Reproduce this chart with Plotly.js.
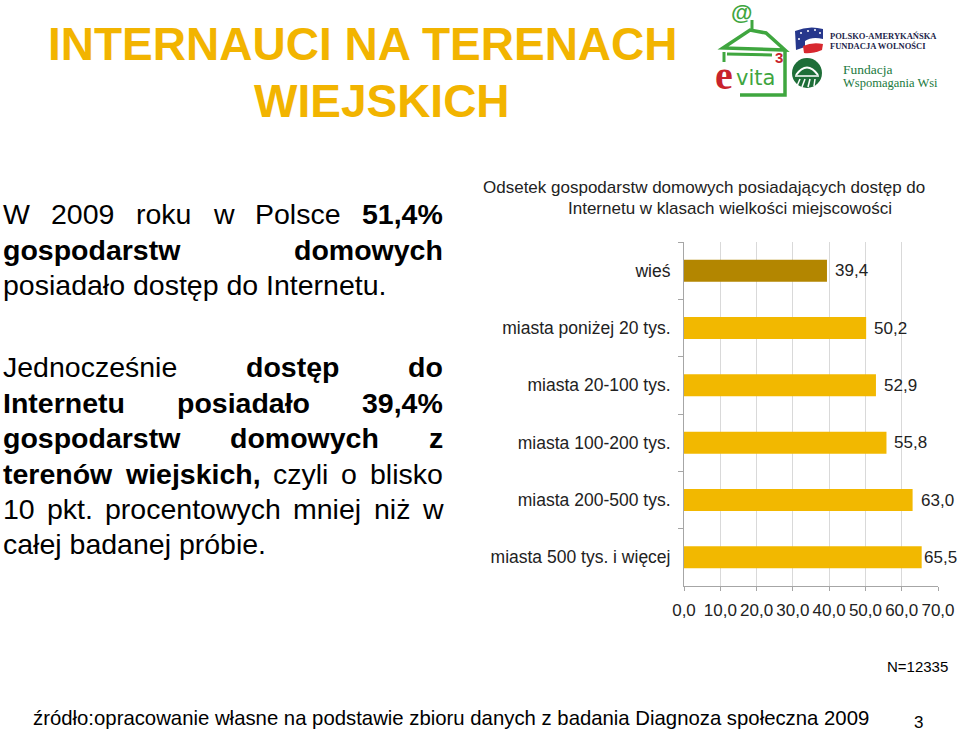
<!DOCTYPE html>
<html>
<head>
<meta charset="utf-8">
<script src="https://cdn.plot.ly/plotly-3.0.1.min.js"></script>
<style>html,body{margin:0;padding:0;background:#fff;}#chart{width:960px;height:734px;}</style>
</head>
<body>
<div id="chart"></div>
<script>
// ---------- DATA ----------
const categories = ['wieś', 'miasta poniżej 20 tys.', 'miasta 20-100 tys.', 'miasta 100-200 tys.', 'miasta 200-500 tys.', 'miasta 500 tys. i więcej'];
const values = [39.4, 50.2, 52.9, 55.8, 63.0, 65.5];
const xTicks = [0, 10, 20, 30, 40, 50, 60, 70];
const slideTitle = ['INTERNAUCI NA TERENACH', 'WIEJSKICH'];
const chartTitle = ['Odsetek gospodarstw domowych posiadających dostęp do', 'Internetu w klasach wielkości miejscowości'];
const sampleNote = 'N=12335';
const sourceNote = 'źródło:opracowanie własne na podstawie zbioru danych z badania Diagnoza społeczna 2009';
const pageNumber = '3';
// paragraphs: each line is a list of [word, bold]
const paragraph1 = [
  [['W',0],['2009',0],['roku',0],['w',0],['Polsce',0],['51,4%',1]],
  [['gospodarstw',1],['domowych',1]],
  [['posiadało dostęp do Internetu.',0]]
];
const paragraph2 = [
  [['Jednocześnie',0],['dostęp',1],['do',1]],
  [['Internetu',1],['posiadało',1],['39,4%',1]],
  [['gospodarstw',1],['domowych',1],['z',1]],
  [['terenów',1],['wiejskich,',1],['czyli',0],['o',0],['blisko',0]],
  [['10',0],['pkt.',0],['procentowych',0],['mniej',0],['niż',0],['w',0]],
  [['całej badanej próbie.',0]]
];

// ---------- HELPERS ----------
const W = 960, H = 734;
const X = px => px / W;
const Y = py => 1 - py / H;
const FAM = 'Liberation Sans, Arial, sans-serif';
const canvas = document.createElement('canvas');
const ctx = canvas.getContext('2d');
function measure(t, size, bold, fam) {
  ctx.font = (bold ? 'bold ' : '') + size + 'px ' + (fam || '"Liberation Sans", Arial');
  return ctx.measureText(t).width;
}
const annotations = [];
function txt(t, px, pyCenter, size, opts) {
  opts = opts || {};
  annotations.push({
    xref: 'paper', yref: 'paper', x: X(px), y: Y(pyCenter), text: t, showarrow: false,
    xanchor: opts.anchor || 'left', yanchor: 'middle', borderpad: 0, borderwidth: 0,
    font: {family: opts.family || FAM, size: size, color: opts.color || '#000', weight: opts.bold ? 'bold' : 'normal'}
  });
}
const centerOff = fs => 0.3465 * fs;

// justified paragraphs
const PFS = 28.5, PL = 2.5, PR = 443;
function drawParagraph(lines, baselines) {
  lines.forEach((words, li) => {
    const yc = baselines[li] - centerOff(PFS);
    const isLast = li === lines.length - 1;
    if (isLast || words.length === 1) {
      let x = PL;
      words.forEach(([w, b]) => { txt(w, x, yc, PFS, {bold: b}); x += measure(w + ' ', PFS, b); });
    } else {
      const widths = words.map(([w, b]) => measure(w, PFS, b));
      const total = widths.reduce((a, c) => a + c, 0);
      const gap = (PR - PL - total) / (words.length - 1);
      let x = PL;
      words.forEach(([w, b], i) => { txt(w, x, yc, PFS, {bold: b}); x += widths[i] + gap; });
    }
  });
}
drawParagraph(paragraph1, [224, 259.5, 295]);
drawParagraph(paragraph2, [377, 412.5, 448, 483.5, 519, 554]);

// slide title
const gold = '#F2B400';
txt(slideTitle[0], 362.5, 60 - centerOff(46), 46, {bold: 1, color: gold, anchor: 'center'});
txt(slideTitle[1], 381.5, 117 - centerOff(46), 46, {bold: 1, color: gold, anchor: 'center'});

// chart title
txt(chartTitle[0], 703.5, 193 - centerOff(17), 17, {color: '#222', anchor: 'center'});
txt(chartTitle[1], 730, 214 - centerOff(17), 17, {color: '#222', anchor: 'center'});

// notes
txt(sampleNote, 948, 666, 15, {anchor: 'right', color: '#000'});
const footFs = 837 / measure(sourceNote, 1, 0);
txt(sourceNote, 33, 718, footFs, {color: '#000'});
txt(pageNumber, 918, 722, 17, {anchor: 'center', color: '#000'});

// value labels (through the data axes)
const axL = 684, axR = 938;
values.forEach((v, i) => {
  const lab = v.toFixed(1).replace('.', ',');
  const lw = measure(lab, 17, 0);
  const endPx = axL + (v - 0) / 70 * (axR - axL);
  const shift = Math.min(8, 957 - lw - endPx);
  annotations.push({xref: 'x', yref: 'y', x: v, y: categories[i], text: lab, showarrow: false,
    xanchor: 'left', yanchor: 'middle', xshift: shift, borderpad: 0, borderwidth: 0,
    font: {family: FAM, size: 17, color: '#222'}});
});

// ---------- LOGOS (approximate) ----------
const green = '#3FA63F';
const P = pts => pts.map((p, i) => (i ? 'L ' : 'M ') + X(p[0]) + ',' + Y(p[1])).join(' ');
const shapes = [];
function path(d, line, fill, w) {
  shapes.push({type: 'path', xref: 'paper', yref: 'paper', path: d, line: {color: line || 'rgba(0,0,0,0)', width: w || 0}, fillcolor: fill || 'rgba(0,0,0,0)'});
}
// evita house
path(P([[723,48],[750,30],[766,33],[785,50]]) + ' Z', green, null, 3.5);
path(P([[727,54],[772,55]]), green, null, 3);
path(P([[785,50],[785,95],[740,95]]), green, null, 3.5);
path(P([[724,52],[724,62]]), green, null, 3);
path(P([[752,20],[752,30]]), green, null, 3);
txt('@', 741, 13, 22, {bold: 1, color: green, anchor: 'center'});
txt('e', 724, 75, 40, {bold: 1, color: '#C8232C', anchor: 'center', family: 'Liberation Serif, serif'});
txt('vita', 755, 78, 21, {color: green, anchor: 'center', family: 'DejaVu Sans, sans-serif'});
txt('3', 779, 58, 15, {bold: 1, color: '#C8232C', anchor: 'center'});
// PAFW flag
const navy = '#26378C';
shapes.push({type: 'path', xref: 'paper', yref: 'paper', line: {width: 0},
  fillcolor: navy, path: `M ${X(795)},${Y(31)} Q ${X(809)},${Y(25)} ${X(823)},${Y(29)} L ${X(823)},${Y(39)} Q ${X(812)},${Y(36)} ${X(805)},${Y(41)} L ${X(805)},${Y(47)} L ${X(796)},${Y(50)} Z`});
shapes.push({type: 'path', xref: 'paper', yref: 'paper', line: {width: 0},
  fillcolor: '#D7282F', path: `M ${X(803)},${Y(46)} Q ${X(812)},${Y(42)} ${X(823)},${Y(44)} L ${X(822)},${Y(50)} Q ${X(812)},${Y(54)} ${X(804)},${Y(53)} Z`});
[[801,33],[808,31],[815,30],[799,39],[820,33]].forEach(([cx, cy]) => {
  shapes.push({type: 'circle', xref: 'paper', yref: 'paper', x0: X(cx-1), x1: X(cx+1), y0: Y(cy+1), y1: Y(cy-1), line: {width: 0}, fillcolor: '#fff'});
});
txt('POLSKO-AMERYKAŃSKA', 830, 36, 8.5, {bold: 1, color: '#1C1E4A', family: 'Liberation Serif, serif'});
txt('FUNDACJA WOLNOŚCI', 830, 46.5, 8.5, {bold: 1, color: '#1C1E4A', family: 'Liberation Serif, serif'});
// FWW logo
const dg = '#1E6E38';
shapes.push({type: 'circle', xref: 'paper', yref: 'paper', x0: X(792), x1: X(822), y0: Y(88), y1: Y(58), line: {width: 0}, fillcolor: dg});
shapes.push({type: 'path', xref: 'paper', yref: 'paper', line: {color: '#fff', width: 2}, fillcolor: 'rgba(0,0,0,0)',
  path: `M ${X(796)},${Y(75)} Q ${X(807)},${Y(60)} ${X(818)},${Y(75)}`});
path(P([[795,76],[819,76]]), '#fff', null, 1.5);
[[800,79,797,86],[805,79,802,87],[810,79,808,87],[815,79,814,86]].forEach(([a,b,c,d]) => path(P([[a,b],[c,d]]), '#fff', null, 1.5));
txt('Fundacja', 843, 70, 13.5, {color: '#227A3E', family: 'Liberation Serif, serif'});
txt('Wspomagania Wsi', 843, 83.5, 12.5, {color: '#227A3E', family: 'Liberation Serif, serif'});

// ---------- CHART ----------
const barColors = categories.map((c, i) => i === 0 ? '#B38600' : '#F2B800');
const trace = {type: 'bar', orientation: 'h', x: values, y: categories, marker: {color: barColors, line: {width: 0}},
  hoverinfo: 'skip'};
const layout = {
  width: W, height: H, margin: {l: 0, r: 0, t: 0, b: 0}, paper_bgcolor: '#fff', plot_bgcolor: '#fff',
  showlegend: false, separators: ', ', bargap: 0.616,
  font: {family: FAM, size: 17, color: '#222'},
  xaxis: {domain: [axL / W, axR / W], range: [0, 70], tickvals: xTicks, tickformat: '.1f', showgrid: true, gridcolor: '#D9D9D9', gridwidth: 1,
    zeroline: false, showline: true, linecolor: '#A6A6A6', ticks: 'outside', ticklen: 4, tickcolor: '#A6A6A6',
    tickfont: {size: 17, color: '#222'}, ticklabelstandoff: 5, automargin: false, fixedrange: true},
  yaxis: {domain: [1 - 586 / H, 1 - 242 / H], type: 'category', categoryorder: 'array', categoryarray: categories, autorange: 'reversed',
    showgrid: false, zeroline: false, showline: true, linecolor: '#A6A6A6', ticks: 'outside', tickson: 'boundaries', ticklen: 5, tickcolor: '#A6A6A6',
    tickfont: {size: 17.5, color: '#222'}, ticklabelstandoff: 9, automargin: false, fixedrange: true},
  annotations: annotations, shapes: shapes
};
Plotly.newPlot('chart', [trace], layout, {staticPlot: true, displayModeBar: false});
</script>
</body>
</html>
